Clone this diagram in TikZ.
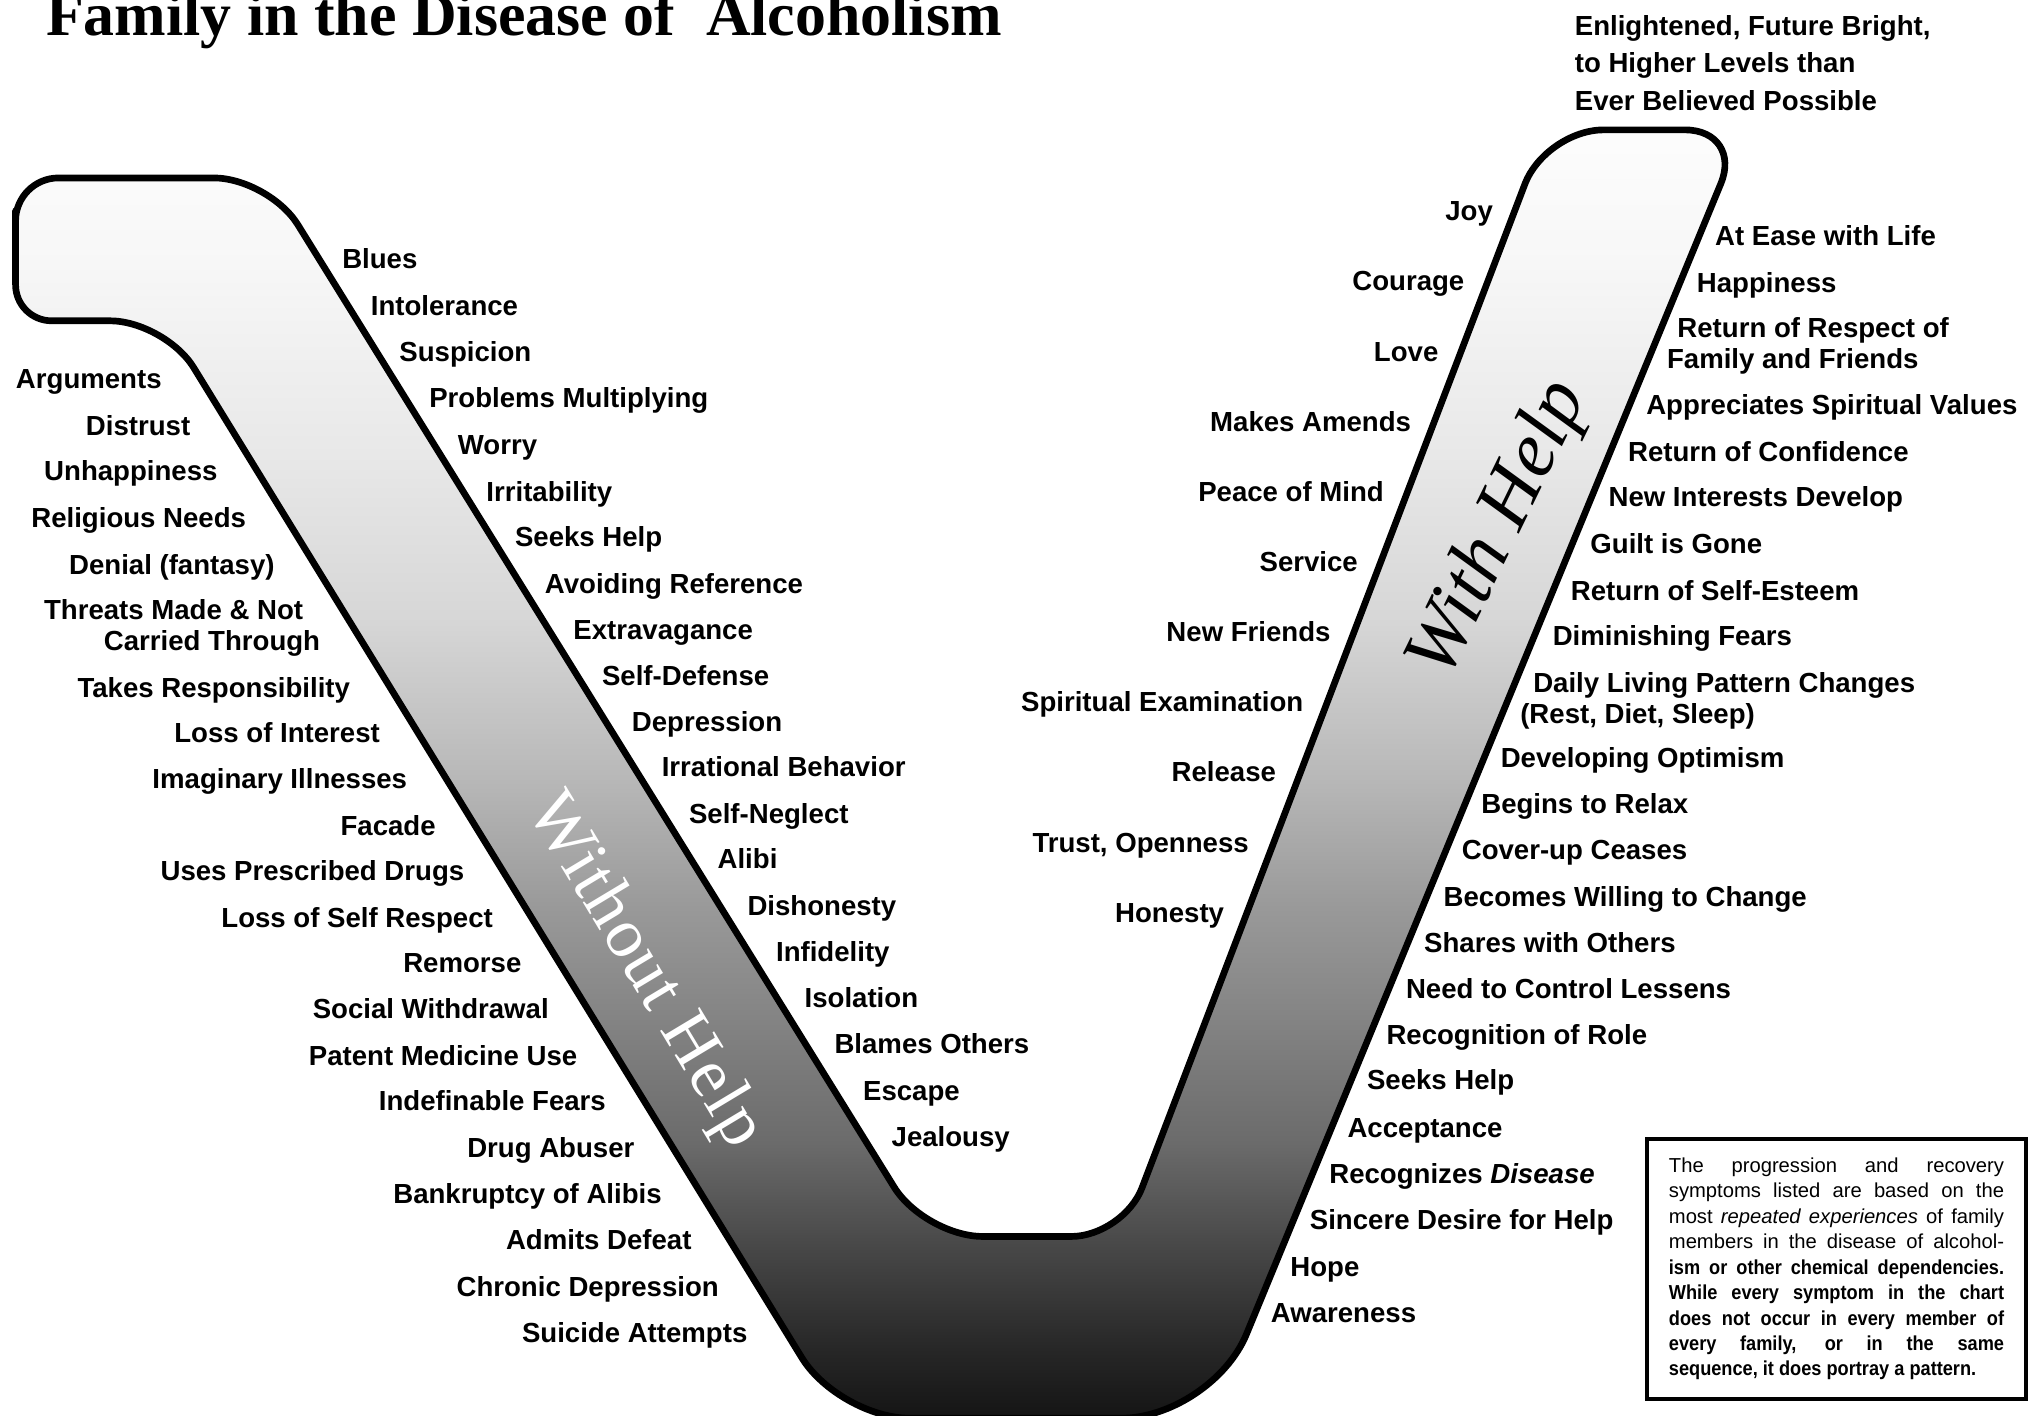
\documentclass[tikz,border=0pt]{standalone}
\usepackage{fontspec}
\setmainfont{Liberation Sans}
\newfontfamily\lblfamily{Liberation Sans}
\newfontfamily\notefam{Liberation Sans}
\newfontfamily\notebfam[FakeStretch=0.9]{Liberation Sans}
\newfontfamily\serifbig{Liberation Serif}
\newfontfamily\wofont[LetterSpace=2.5]{Liberation Serif}
\newcommand{\lblfont}{\lblfamily\bfseries\fontsize{7.85pt}{8.85pt}\selectfont}
\newcommand{\notefont}{\notefam\fontsize{5.75pt}{7.24pt}\selectfont}
\pgfdeclareverticalshading{vgrad}{100bp}{%
  color(0bp)=(black!92); color(25bp)=(black!92); color(27.6bp)=(black!85);
  color(31.65bp)=(black!72); color(35.7bp)=(black!58); color(40.7bp)=(black!48);
  color(44.8bp)=(black!40); color(49.8bp)=(black!28); color(55.9bp)=(black!16);
  color(62.4bp)=(black!9); color(70bp)=(black!3); color(75bp)=(black!1);
  color(100bp)=(black!1)}
\tikzset{
  lblL/.style={anchor=base east, inner sep=0pt, font=\lblfont},
  lblR/.style={anchor=base west, inner sep=0pt, font=\lblfont},
  vshape/.style={shading=vgrad, line width=1.9pt, line join=round},
  armtext/.style={inner sep=0pt, anchor=center},
  notebox/.style={draw, line width=1.1pt, minimum width=3.79cm, minimum height=2.6cm, inner sep=0pt}
}
\begin{document}
\begin{tikzpicture}[x=0.012988cm, y=-0.012988cm]
\useasboundingbox (0,0) rectangle (1563,1090.2);

% V shape
\shadedraw[vshape]
  (12,190) [rounded corners=0.43cm] -- (12,137)
  [rounded corners=0.55cm] -- (207,137)
  [rounded corners=0.58cm] -- (712,952)
  [rounded corners=0.52cm] -- (865,952)
  [rounded corners=0.58cm] -- (1190,100)
  [rounded corners=0.58cm] -- (1342,100)
  [rounded corners=0.91cm] -- (933,1092)
  [rounded corners=0.71cm] -- (646,1092)
  [rounded corners=0.55cm] -- (127,247)
  [rounded corners=0.36cm] -- (12,247)
  -- cycle;

% title
\node[anchor=base west, inner sep=0pt, font=\serifbig\bfseries\fontsize{17.6pt}{20pt}\selectfont] (title) at (35,27) {Family in the Disease of\ \ Alcoholism};

% top right text
\node[lblR] (top) at (1212,27) {\fontsize{7.85pt}{10.72pt}\selectfont\begin{tabular}[t]{@{}l@{}}Enlightened, Future Bright,\\to Higher Levels than\\Ever Believed Possible\end{tabular}};

% arm texts
\node[armtext, text=white, font=\wofont\fontsize{20pt}{24pt}\selectfont, rotate=-59] (woh) at (496,748) {Without Help};
\node[armtext, font=\serifbig\itshape\fontsize{22.5pt}{27pt}\selectfont, rotate=64] (wh) at (1155,408) {With Help};

% left arm, outer labels
\node[lblL] (a1) at (125,299) {Arguments};
\node[lblL] (a2) at (147,335) {Distrust};
\node[lblL] (a3) at (168,370) {Unhappiness};
\node[lblL] (a4) at (190,406) {Religious Needs};
\node[lblL] (a5) at (212,442) {Denial (fantasy)};
\node[lblL] (a6) at (247,477) {\begin{tabular}[t]{@{}r@{}}Threats Made \& Not\kern0.169cm\\Carried Through\end{tabular}};
\node[lblL] (a7) at (270,537) {Takes Responsibility};
\node[lblL] (a8) at (293,572) {Loss of Interest};
\node[lblL] (a9) at (314,607) {Imaginary Illnesses};
\node[lblL] (a10) at (336,643) {Facade};
\node[lblL] (a11) at (358,678) {Uses Prescribed Drugs};
\node[lblL] (a12) at (380,714) {Loss of Self Respect};
\node[lblL] (a13) at (402,749) {Remorse};
\node[lblL] (a14) at (423,784) {Social Withdrawal};
\node[lblL] (a15) at (445,820) {Patent Medicine Use};
\node[lblL] (a16) at (467,855) {Indefinable Fears};
\node[lblL] (a17) at (489,891) {Drug Abuser};
\node[lblL] (a18) at (510,927) {Bankruptcy of Alibis};
\node[lblL] (a19) at (533,962) {Admits Defeat};
\node[lblL] (a20) at (554,998) {Chronic Depression};
\node[lblL] (a21) at (576,1034) {Suicide Attempts};

% left arm, inner labels
\node[lblR] (b1) at (263,207) {Blues};
\node[lblR] (b2) at (285,243) {Intolerance};
\node[lblR] (b3) at (307,278) {Suspicion};
\node[lblR] (b4) at (330,314) {Problems Multiplying};
\node[lblR] (b5) at (352,350) {Worry};
\node[lblR] (b6) at (374,386) {Irritability};
\node[lblR] (b7) at (396,421) {Seeks Help};
\node[lblR] (b8) at (419,457) {Avoiding Reference};
\node[lblR] (b9) at (441,492) {Extravagance};
\node[lblR] (b10) at (463,528) {Self-Defense};
\node[lblR] (b11) at (486,563) {Depression};
\node[lblR] (b12) at (509,598) {Irrational Behavior};
\node[lblR] (b13) at (530,634) {Self-Neglect};
\node[lblR] (b14) at (552,669) {Alibi};
\node[lblR] (b15) at (575,705) {Dishonesty};
\node[lblR] (b16) at (597,740) {Infidelity};
\node[lblR] (b17) at (619,776) {Isolation};
\node[lblR] (b18) at (642,811) {Blames Others};
\node[lblR] (b19) at (664,847) {Escape};
\node[lblR] (b20) at (686,883) {Jealousy};

% right arm, inner labels
\node[lblL] (c1) at (1150,170) {Joy};
\node[lblL] (c2) at (1128,224) {Courage};
\node[lblL] (c3) at (1108,278) {Love};
\node[lblL] (c4) at (1087,332) {Makes Amends};
\node[lblL] (c5) at (1066,386) {Peace of Mind};
\node[lblL] (c6) at (1046,440) {Service};
\node[lblL] (c7) at (1025,494) {New Friends};
\node[lblL] (c8) at (1004,548) {Spiritual Examination};
\node[lblL] (c9) at (983,602) {Release};
\node[lblL] (c10) at (962,656) {Trust, Openness};
\node[lblL] (c11) at (943,710) {Honesty};

% right arm, outer labels
\node[lblR] (d1) at (1320,189) {At Ease with Life};
\node[lblR] (d2) at (1306,225) {Happiness};
\node[lblR] (d3) at (1283,260) {\begin{tabular}[t]{@{}l@{}}\kern0.104cm Return of Respect of\\Family and Friends\end{tabular}};
\node[lblR] (d4) at (1267,319) {Appreciates Spiritual Values};
\node[lblR] (d5) at (1253,355) {Return of Confidence};
\node[lblR] (d6) at (1238,390) {New Interests Develop};
\node[lblR] (d7) at (1224,426) {Guilt is Gone};
\node[lblR] (d8) at (1209,462) {Return of Self-Esteem};
\node[lblR] (d9) at (1195,497) {Diminishing Fears};
\node[lblR] (d10) at (1170,533) {\begin{tabular}[t]{@{}l@{}}\kern0.13cm Daily Living Pattern Changes\\(Rest, Diet, Sleep)\end{tabular}};
\node[lblR] (d11) at (1155,591) {Developing Optimism};
\node[lblR] (d12) at (1140,626) {Begins to Relax};
\node[lblR] (d13) at (1125,662) {Cover-up Ceases};
\node[lblR] (d14) at (1111,698) {Becomes Willing to Change};
\node[lblR] (d15) at (1096,733) {Shares with Others};
\node[lblR] (d16) at (1082,769) {Need to Control Lessens};
\node[lblR] (d17) at (1067,804) {Recognition of Role};
\node[lblR] (d18) at (1052,839) {Seeks Help};
\node[lblR] (d19) at (1037,876) {Acceptance};
\node[lblR] (d20) at (1023,911) {Recognizes \textit{Disease}};
\node[lblR] (d21) at (1008,947) {Sincere Desire for Help};
\node[lblR] (d22) at (993,983) {Hope};
\node[lblR] (d23) at (978,1018) {Awareness};

% note box
\node[notebox] (note) at (1414,977) {\parbox{3.351cm}{\notefont
\makebox[\linewidth][s]{The progression and recovery}\\
\makebox[\linewidth][s]{symptoms listed are based on the}\\
\makebox[\linewidth][s]{most \textit{repeated experiences} of family}\\
\makebox[\linewidth][s]{members in the disease of alcohol-}\\
\makebox[\linewidth][s]{\notebfam\bfseries ism or other chemical dependencies.}\\
\makebox[\linewidth][s]{\notebfam\bfseries While every symptom in the chart}\\
\makebox[\linewidth][s]{\notebfam\bfseries does not occur in every member of}\\
\makebox[\linewidth][s]{\notebfam\bfseries every family, or in the same}\\
{\notebfam\bfseries sequence, it does portray a pattern.}}};
\end{tikzpicture}
\end{document}
